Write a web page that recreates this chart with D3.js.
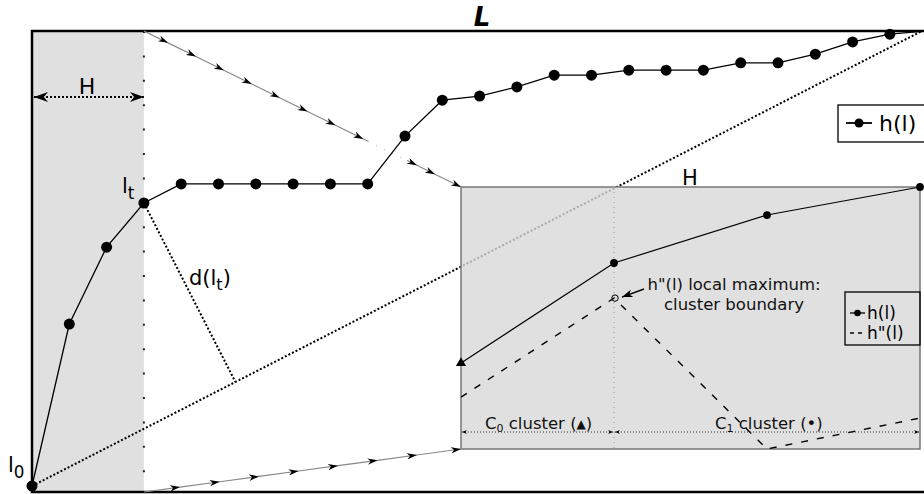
<!DOCTYPE html>
<html>
<head>
<meta charset="utf-8">
<script src="https://d3js.org/d3.v7.min.js"></script>
<style>
  body { margin: 0; background: #fff; }
  svg { display: block; font-family: "DejaVu Sans", sans-serif; }
</style>
</head>
<body>
<div id="chart"></div>
<script>
// h(l) over the whole list L, one sample per step
var hMain = [0, 35.6, 52.5, 62.2, 66.4, 66.4, 66.4, 66.4, 66.4, 66.4,
             76.9, 84.8, 85.7, 87.7, 90.3, 90.3, 91.4, 91.4, 91.4, 93.0,
             93.0, 94.9, 97.6, 99.3, 100];
var steps = hMain.map(function(d, i) { return i; });
var tIndex = 3; // l_t, end of the window H

// zoomed window H: h(l), h''(l) and the cluster of each sample
var zoomSteps = [0, 1, 2, 3];
var hZoom = [32.8, 71.0, 89.3, 100];
var hSecond = [19.8, 57.6, 0, 11.8];
var zoomCluster = ["C0", "C1", "C1", "C1"];

var width = 924, height = 494;
var frame = {left: 32, top: 31, right: 922, bottom: 492};
var box = {left: 461, top: 187, right: 920, bottom: 449};

var x = d3.scaleLinear().domain([0, 24]).range([32, 927.2]);
var y = d3.scaleLinear().domain([0, 100]).range([486, 31]);
var ix = d3.scaleLinear().domain([0, 3]).range([box.left, box.right]);
var iy = d3.scaleLinear().domain([0, 100]).range([box.bottom, box.top]);

var svg = d3.select("#chart").append("svg")
    .attr("width", width)
    .attr("height", height);

var defs = svg.append("defs");

// arrow heads: name, length, half width, colour
function marker(id, len, half, color) {
    defs.append("marker")
        .attr("id", id)
        .attr("markerUnits", "userSpaceOnUse")
        .attr("viewBox", [-len, -half, len, half * 2].join(" "))
        .attr("refX", 0).attr("refY", 0)
        .attr("markerWidth", len).attr("markerHeight", half * 2)
        .attr("orient", "auto-start-reverse")
      .append("path")
        .attr("d", "M" + (-len) + "," + (-half) + " L0,0 L" + (-len) + "," + half + " L" + (-len * 0.7) + ",0 Z")
        .attr("fill", color);
}
marker("tip", 10, 3.2, "#000");
marker("big", 14, 5, "#000");
marker("small", 5, 2, "#000");
marker("note", 11, 4, "#000");

defs.append("clipPath").attr("id", "clip-frame")
  .append("rect")
    .attr("x", 0).attr("y", 0)
    .attr("width", frame.right).attr("height", frame.bottom);
defs.append("clipPath").attr("id", "clip-box")
  .append("rect")
    .attr("x", box.left).attr("y", box.top)
    .attr("width", box.right - box.left).attr("height", box.bottom - box.top);

// the window H, shaded
svg.append("rect")
    .attr("x", frame.left)
    .attr("y", frame.top)
    .attr("width", x(tIndex) - frame.left)
    .attr("height", frame.bottom - frame.top)
    .attr("fill", "#e0e0e0");

svg.append("line")
    .attr("x1", x(tIndex)).attr("x2", x(tIndex))
    .attr("y1", frame.top).attr("y2", frame.bottom)
    .attr("stroke", "#222")
    .attr("stroke-width", 2)
    .attr("stroke-dasharray", "2 22.4");

// frame (top, left, bottom)
svg.append("path")
    .attr("d", "M" + width + "," + frame.top + " H" + frame.left + " V" + frame.bottom + " H" + width)
    .attr("fill", "none")
    .attr("stroke", "#000")
    .attr("stroke-width", 2.5);

// connectors from the window to the zoomed box
function along(p0, p1, ts) {
    return ts.map(function(t) { return [p0[0] + (p1[0] - p0[0]) * t, p0[1] + (p1[1] - p0[1]) * t]; });
}
var line = d3.line();

var topA = [x(tIndex), frame.top], topB = [box.left, box.top];
svg.append("path")
    .attr("d", line(along(topA, topB, [0, .076, .164, .252, .34, .428, .516, .604, .692, .707])))
    .attr("fill", "none").attr("stroke", "#888").attr("stroke-width", 1.2)
    .attr("marker-mid", "url(#tip)");
svg.append("path")
    .attr("d", line(along(topA, topB, [.707, .83])))
    .attr("fill", "none").attr("stroke", "#bbb").attr("stroke-width", 1.2)
    .attr("stroke-dasharray", "1 8");
svg.append("path")
    .attr("d", line(along(topA, topB, [.83, .861, .918, 1])))
    .attr("fill", "none").attr("stroke", "#888").attr("stroke-width", 1.2)
    .attr("marker-mid", "url(#tip)")
    .attr("marker-end", "url(#tip)");

var botA = [x(tIndex), frame.bottom], botB = [box.left, box.bottom];
svg.append("path")
    .attr("d", line(along(botA, botB, [0, .114, .239, .363, .488, .612, .737, .861, 1])))
    .attr("fill", "none").attr("stroke", "#888").attr("stroke-width", 1.2)
    .attr("marker-mid", "url(#tip)")
    .attr("marker-end", "url(#tip)");

// diagonal from l_0 to the end of L
var p0 = [x(0), y(hMain[0])], p1 = [frame.right, frame.top];
svg.append("line")
    .attr("x1", p0[0]).attr("y1", p0[1])
    .attr("x2", p1[0]).attr("y2", p1[1])
    .attr("stroke", "#000").attr("stroke-width", 2)
    .attr("stroke-dasharray", "2 2");

// d(l_t): perpendicular from l_t to the diagonal
var pt = [x(tIndex), y(hMain[tIndex])];
var dx = p1[0] - p0[0], dy = p1[1] - p0[1];
var u = ((pt[0] - p0[0]) * dx + (pt[1] - p0[1]) * dy) / (dx * dx + dy * dy);
svg.append("line")
    .attr("x1", pt[0]).attr("y1", pt[1])
    .attr("x2", p0[0] + dx * u).attr("y2", p0[1] + dy * u)
    .attr("stroke", "#000").attr("stroke-width", 2)
    .attr("stroke-dasharray", "2 2");

// H width arrow
svg.append("line")
    .attr("x1", frame.left + 2).attr("x2", x(tIndex))
    .attr("y1", 97).attr("y2", 97)
    .attr("stroke", "#000").attr("stroke-width", 2)
    .attr("stroke-dasharray", "2 2")
    .attr("marker-start", "url(#big)")
    .attr("marker-end", "url(#big)");

// h(l) on L
var main = svg.append("g").attr("clip-path", "url(#clip-frame)");
main.append("path")
    .datum(steps)
    .attr("d", d3.line().x(function(i) { return x(i); }).y(function(i) { return y(hMain[i]); }))
    .attr("fill", "none").attr("stroke", "#000").attr("stroke-width", 1.3);
main.selectAll("circle")
    .data(steps)
  .enter().append("circle")
    .attr("cx", function(i) { return x(i); })
    .attr("cy", function(i) { return y(hMain[i]); })
    .attr("r", 5.5)
    .attr("fill", "#000");

// zoomed box
svg.append("rect")
    .attr("x", box.left).attr("y", box.top)
    .attr("width", box.right - box.left).attr("height", box.bottom - box.top)
    .attr("fill", "#e0e0e0")
    .attr("stroke", "#777").attr("stroke-width", 1.5);

var inner = svg.append("g").attr("clip-path", "url(#clip-box)");
inner.append("line")
    .attr("x1", p0[0]).attr("y1", p0[1])
    .attr("x2", p1[0]).attr("y2", p1[1])
    .attr("stroke", "#aaa").attr("stroke-width", 2)
    .attr("stroke-dasharray", "2 2");
inner.append("line")
    .attr("x1", ix(1)).attr("x2", ix(1))
    .attr("y1", box.top).attr("y2", box.bottom)
    .attr("stroke", "#999").attr("stroke-width", 1)
    .attr("stroke-dasharray", "1 4");

// cluster spans
var spanY = 432;
svg.append("line")
    .attr("x1", ix(0) + 1).attr("x2", ix(1) - 1)
    .attr("y1", spanY).attr("y2", spanY)
    .attr("stroke", "#333").attr("stroke-width", 1)
    .attr("stroke-dasharray", "1 2")
    .attr("marker-start", "url(#small)")
    .attr("marker-end", "url(#small)");
svg.append("line")
    .attr("x1", ix(1) + 1).attr("x2", ix(3) - 1)
    .attr("y1", spanY).attr("y2", spanY)
    .attr("stroke", "#333").attr("stroke-width", 1)
    .attr("stroke-dasharray", "1 2")
    .attr("marker-start", "url(#small)")
    .attr("marker-end", "url(#small)");

inner.append("path")
    .datum(zoomSteps)
    .attr("d", d3.line().x(function(i) { return ix(i); }).y(function(i) { return iy(hSecond[i]); }))
    .attr("fill", "none").attr("stroke", "#000").attr("stroke-width", 1.4)
    .attr("stroke-dasharray", "7 9");

svg.append("path")
    .datum(zoomSteps)
    .attr("d", d3.line().x(function(i) { return ix(i); }).y(function(i) { return iy(hZoom[i]); }))
    .attr("fill", "none").attr("stroke", "#000").attr("stroke-width", 1.2);

var tri = d3.symbol().type(d3.symbolTriangle).size(44);
var dot = d3.symbol().type(d3.symbolCircle).size(48);
svg.selectAll(".zm")
    .data(zoomSteps)
  .enter().append("path")
    .attr("class", "zm")
    .attr("transform", function(i) { return "translate(" + ix(i) + "," + iy(hZoom[i]) + ")"; })
    .attr("d", function(i) { return zoomCluster[i] === "C0" ? tri() : dot(); })
    .attr("fill", "#000");

// local maximum of h''(l)
svg.append("circle")
    .attr("cx", ix(1) + 1).attr("cy", iy(hSecond[1]))
    .attr("r", 3.2)
    .attr("fill", "none").attr("stroke", "#000").attr("stroke-width", 1);
svg.append("line")
    .attr("x1", 644).attr("y1", 289)
    .attr("x2", ix(1) + 8).attr("y2", iy(hSecond[1]) - 1)
    .attr("stroke", "#000").attr("stroke-width", 1.5)
    .attr("marker-end", "url(#note)");

var note = svg.append("text")
    .attr("font-size", 16.5)
    .attr("text-anchor", "middle")
    .attr("fill", "#111");
note.append("tspan").attr("x", 734).attr("y", 290).text("h\"(l) local maximum:");
note.append("tspan").attr("x", 734).attr("y", 310).text("cluster boundary");

var c0 = svg.append("text").attr("x", 485).attr("y", 429).attr("font-size", 16.5).attr("fill", "#111");
c0.append("tspan").text("C");
c0.append("tspan").attr("font-size", 11).attr("dy", 3).text("0");
c0.append("tspan").attr("dy", -3).text(" cluster (");
c0.append("tspan").attr("font-size", 12).attr("dy", -1).text("\u25B2");
c0.append("tspan").attr("dy", 1).text(")");

var c1 = svg.append("text").attr("x", 715).attr("y", 429).attr("font-size", 16.5).attr("fill", "#111");
c1.append("tspan").text("C");
c1.append("tspan").attr("font-size", 11).attr("dy", 3).text("1");
c1.append("tspan").attr("dy", -3).text(" cluster (\u2022)");

// legend inside the zoomed box
var leg2 = svg.append("g");
leg2.append("rect")
    .attr("x", 845).attr("y", 292).attr("width", 75).attr("height", 53)
    .attr("fill", "none").attr("stroke", "#000").attr("stroke-width", 1.3);
leg2.append("line").attr("x1", 850).attr("x2", 865).attr("y1", 313).attr("y2", 313)
    .attr("stroke", "#000").attr("stroke-width", 1.3);
leg2.append("circle").attr("cx", 857.5).attr("cy", 313).attr("r", 3.3).attr("fill", "#000");
leg2.append("text").attr("x", 867).attr("y", 319).attr("font-size", 17).text("h(l)");
leg2.append("line").attr("x1", 850).attr("x2", 865).attr("y1", 333).attr("y2", 333)
    .attr("stroke", "#000").attr("stroke-width", 1.3).attr("stroke-dasharray", "4 4");
leg2.append("text").attr("x", 867).attr("y", 339).attr("font-size", 17).text("h\"(l)");

// main legend
var leg = svg.append("g");
leg.append("rect")
    .attr("x", 838).attr("y", 105).attr("width", 100).attr("height", 37)
    .attr("fill", "#fff").attr("stroke", "#000").attr("stroke-width", 1.3);
leg.append("line").attr("x1", 846).attr("x2", 872).attr("y1", 123).attr("y2", 123)
    .attr("stroke", "#000").attr("stroke-width", 1.8);
leg.append("circle").attr("cx", 859).attr("cy", 123).attr("r", 4.5).attr("fill", "#000");
leg.append("text").attr("x", 879).attr("y", 131).attr("font-size", 22).text("h(l)");

// labels
svg.append("text")
    .attr("x", 482).attr("y", 26)
    .attr("text-anchor", "middle")
    .attr("font-size", 26).attr("font-weight", "bold").attr("font-style", "italic")
    .text("L");
svg.append("text").attr("x", 87).attr("y", 94).attr("text-anchor", "middle").attr("font-size", 22).text("H");
svg.append("text").attr("x", 690).attr("y", 185).attr("text-anchor", "middle").attr("font-size", 21).text("H");

function sub(xx, yy, main, s, size) {
    var t = svg.append("text").attr("x", xx).attr("y", yy).attr("font-size", size);
    t.append("tspan").text(main);
    t.append("tspan").attr("font-size", size * 0.8).attr("dy", size * 0.3).text(s);
    return t;
}
sub(122, 193, "l", "t", 21);
sub(8, 472, "l", "0", 21);
var dl = svg.append("text").attr("x", 189).attr("y", 285).attr("font-size", 21);
dl.append("tspan").text("d(l");
dl.append("tspan").attr("font-size", 16).attr("dy", 5).text("t");
dl.append("tspan").attr("dy", -5).text(")");
</script>
</body>
</html>
